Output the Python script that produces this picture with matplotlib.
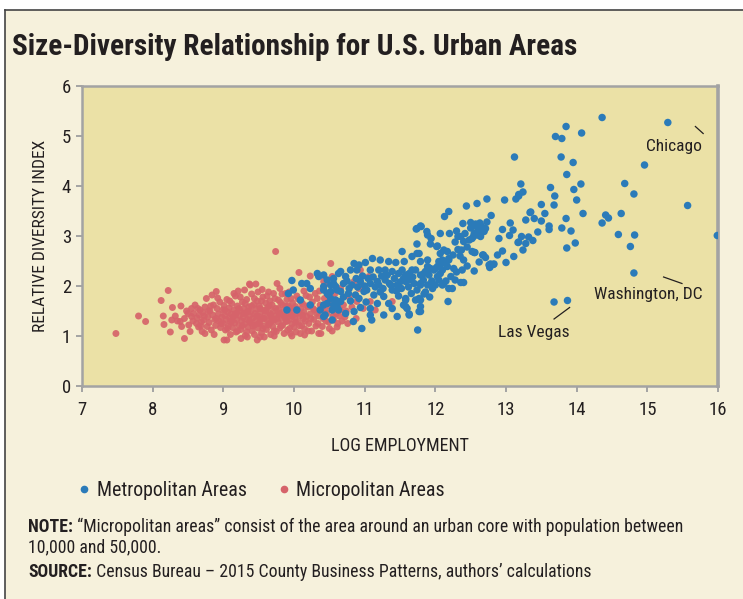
import matplotlib
matplotlib.use("Agg")
import matplotlib.pyplot as plt
from matplotlib import font_manager
from matplotlib.lines import Line2D

# ---------------- data ----------------
micro_x = [7.48, 7.80, 7.90, 8.12, 8.22, 8.15, 8.16, 8.25, 8.28, 8.32, 8.27, 8.39, 8.41, 8.45, 8.51, 8.53,
           8.55, 8.60, 8.55, 8.67, 8.62, 8.72, 8.77, 8.76, 8.90, 8.84, 9.01, 9.05, 8.70, 8.74,
           8.58, 8.63, 8.66, 8.69, 8.71, 8.74, 8.78, 8.80, 8.81, 8.83, 8.85, 8.86, 8.88, 8.89, 8.91, 8.93,
           8.94, 8.95, 8.96, 8.98, 8.99, 8.65, 8.87, 8.92,
           9.00, 9.01, 9.02, 9.03, 9.04, 9.05, 9.06, 9.07, 9.08, 9.09, 9.10, 9.10, 9.11, 9.12, 9.13, 9.14,
           9.15, 9.16, 9.17, 9.18, 9.18, 9.19, 9.20, 9.21, 9.22, 9.23, 9.24, 9.25, 9.26, 9.27,
           9.28, 9.29, 9.30, 9.31, 9.32, 9.33, 9.34, 9.35, 9.36, 9.37, 9.38, 9.38, 9.39, 9.40, 9.41, 9.42,
           9.43, 9.44, 9.45, 9.46, 9.46, 9.47, 9.48, 9.48, 9.49, 9.37, 9.50, 9.30, 9.34, 9.44,
           9.51, 9.52, 9.53, 9.54, 9.55, 9.56, 9.57, 9.58, 9.59, 9.60, 9.61, 9.62, 9.63, 9.64, 9.65, 9.66,
           9.67, 9.68, 9.69, 9.70, 9.71, 9.72, 9.73, 9.74, 9.74, 9.75, 9.76, 9.55, 9.66, 9.58,
           9.77, 9.78, 9.79, 9.80, 9.81, 9.82, 9.83, 9.84, 9.85, 9.86, 9.87, 9.88, 9.89, 9.90, 9.91, 9.92,
           9.93, 9.94, 9.95, 9.96, 9.97, 9.98, 9.99, 10.00, 9.80, 9.93,
           10.01, 10.02, 10.03, 10.04, 10.05, 10.06, 10.07, 10.08, 10.09, 10.10, 10.11, 10.12, 10.13, 10.14,
           10.15, 10.17, 10.18, 10.20, 10.21, 10.23, 10.23, 10.25, 10.26, 10.28, 10.29,
           10.31, 10.33, 10.35, 10.37, 10.38, 10.40, 10.42, 10.44, 10.45, 10.47, 10.48, 10.50, 10.52, 10.54,
           10.54, 10.56, 10.58, 10.60, 10.62, 10.66, 10.66, 10.70, 10.72, 10.78, 10.85, 10.89, 10.92, 10.94,
           11.06, 11.08, 11.39,
           8.82, 8.90, 8.97, 9.02, 9.06, 9.09, 9.12, 9.15, 9.17, 9.20, 9.22, 9.24, 9.27, 9.29, 9.31, 9.33,
           9.35, 9.37, 9.40, 9.42, 9.44, 9.47, 9.49, 9.50, 9.52, 9.54, 9.56, 9.58, 9.60, 9.62, 9.64, 9.65,
           9.67, 9.69, 9.71, 9.72, 9.74, 9.76, 9.78, 9.80, 9.82, 9.84, 9.86, 9.88, 9.90, 9.92, 9.94, 9.96,
           9.98, 10.00, 10.02, 10.04, 10.06, 10.08, 10.10, 10.12, 10.14, 10.16, 10.18, 10.20, 10.22, 10.24,
           10.27, 10.30, 10.32, 10.34, 10.36, 10.39, 10.41, 10.43, 10.46, 10.49, 10.51, 10.55, 10.57, 10.61,
           10.64, 10.68, 10.74, 10.76, 10.82, 10.88, 10.98, 11.15, 8.50, 8.57, 8.64, 8.68, 8.73, 8.79, 8.35,
           8.45, 8.48, 8.40, 9.25, 9.52, 9.72, 9.97, 10.15, 10.35]
micro_y = [1.05, 1.40, 1.29, 1.71, 1.91, 1.40, 1.23, 1.08, 1.57, 1.40, 1.32, 1.29, 1.19, 0.95, 1.22, 1.09,
           1.39, 1.62, 1.55, 1.52, 1.25, 1.32, 1.19, 1.75, 1.89, 1.82, 0.92, 0.92, 1.09, 1.05,
           1.45, 1.36, 1.42, 1.28, 1.47, 1.58, 1.38, 1.27, 1.50, 1.12, 1.42, 1.62, 1.33, 1.21, 1.55, 1.44,
           1.30, 1.68, 1.17, 1.38, 1.52, 1.18, 1.03, 1.76,
           1.25, 1.61, 1.41, 1.12, 1.33, 1.73, 1.48, 1.20, 1.56, 1.36, 1.03, 1.28, 1.44, 1.65, 1.17, 1.39,
           1.52, 1.26, 1.80, 1.08, 1.45, 1.33, 1.60, 1.90, 1.21, 1.41, 1.50, 1.13, 1.30, 1.68,
           1.37, 1.55, 1.24, 1.01, 1.46, 1.73, 1.33, 1.18, 1.58, 1.40, 2.02, 1.27, 1.49, 1.84, 1.10, 1.36,
           1.63, 1.22, 1.45, 2.04, 1.31, 1.54, 0.92, 1.70, 1.16, 2.04, 1.39, 1.92, 0.98, 1.03,
           1.60, 1.27, 1.48, 1.06, 1.35, 1.78, 1.20, 1.52, 1.42, 1.66, 1.13, 1.31, 1.57, 1.88, 1.25, 1.45,
           1.03, 1.37, 1.62, 1.19, 1.50, 1.32, 1.75, 2.69, 1.41, 1.09, 2.05, 1.93, 1.70, 0.98,
           1.28, 1.55, 1.44, 1.16, 1.67, 1.35, 1.84, 1.22, 1.49, 1.05, 1.38, 1.60, 1.29, 1.73, 1.12, 1.46,
           1.33, 1.56, 1.05, 1.41, 1.24, 1.66, 1.51, 1.18, 1.95, 1.88,
           1.36, 1.59, 1.08, 1.45, 1.28, 1.74, 2.27, 1.40, 1.05, 1.55, 1.21, 1.65, 1.34, 1.48,
           1.14, 1.81, 1.39, 1.58, 1.25, 2.20, 1.44, 1.10, 1.68, 1.33, 1.52,
           1.20, 1.75, 1.40, 1.62, 1.05, 1.19, 2.09, 1.52, 1.30, 2.05, 1.67, 1.15, 2.45, 2.19,
           1.10, 1.32, 1.85, 1.45, 1.25, 1.95, 1.52, 1.62, 1.38, 1.78, 2.09, 1.69, 1.95, 2.32,
           2.19, 1.69, 1.69,
           1.60, 1.35, 1.25, 1.52, 1.15, 1.70, 1.30, 1.85, 1.42, 1.10, 1.55, 1.78, 1.20, 1.45, 1.65, 1.08,
           1.50, 1.30, 1.60, 1.20, 1.75, 1.40, 1.88, 1.25, 1.55, 1.70, 1.15, 1.35, 1.50, 1.80, 1.22, 1.60,
           1.42, 1.30, 1.85, 1.10, 1.55, 1.35, 1.72, 1.45, 1.20, 1.62, 1.40, 1.85, 1.30, 1.60, 1.15, 1.75,
           1.40, 1.55, 1.28, 1.80, 1.50, 1.20, 1.68, 1.42, 1.90, 1.30, 1.60, 1.10, 1.78, 1.35,
           1.55, 1.85, 1.45, 1.25, 1.90, 1.55, 1.35, 1.75, 1.45, 1.28, 1.60, 1.40, 1.72, 1.18,
           1.40, 1.30, 1.50, 1.25, 1.58, 1.35, 1.55, 1.52, 1.45, 1.30, 1.55, 1.20, 1.40, 1.50, 1.30,
           1.35, 1.50, 1.60, 0.95, 0.98, 1.00, 1.00, 1.02, 1.05]

metro_x = [14.36, 15.29, 13.85, 13.70, 13.79, 14.07, 13.12, 13.78, 13.95, 14.96, 13.86, 14.68, 14.81, 13.21,
           13.63, 14.06, 13.96, 13.24, 13.18, 13.14, 12.73, 12.59, 12.98, 13.69, 14.00, 13.50, 13.68, 15.57,
           13.35, 14.09, 12.79, 13.28, 14.41, 14.45, 14.63, 14.36, 13.06, 12.73, 13.61, 13.61, 13.79, 12.95,
           15.99, 14.59, 14.82, 13.22, 13.05, 13.32, 13.38, 13.17, 14.76, 13.98, 13.86, 13.24, 13.11, 13.00,
           12.78, 12.77, 12.83, 12.68, 12.71, 12.55, 14.81, 13.68, 13.87,
           12.57, 12.63, 12.55, 12.60, 12.65, 12.55, 12.60, 12.54, 12.66,
           13.18, 12.44, 12.19, 12.13, 12.39, 12.50, 12.50, 12.71, 12.69, 13.34, 11.73, 11.80, 11.88, 11.89,
           11.94, 12.02, 12.32, 12.36, 12.40, 12.48, 12.52, 12.59, 12.64, 13.18, 13.28, 12.32, 12.37, 12.52,
           12.56, 12.67, 12.76, 12.82, 11.74, 11.74, 11.79, 11.89, 12.12, 12.07, 12.17, 12.19, 12.15, 12.17,
           12.10, 12.03, 11.98, 11.93, 11.89, 11.84, 12.40, 12.38, 12.36, 12.40, 12.22, 12.24, 12.19, 12.10,
           11.98, 11.96, 11.79, 11.63, 11.70, 11.58, 11.53, 12.18, 11.77, 11.72, 11.58, 11.58, 11.63, 11.79,
           11.79, 11.84, 11.75, 12.03, 12.07, 12.05, 11.86, 11.67, 11.65,
           11.79, 11.74, 12.03, 11.93, 11.53, 12.10, 12.19, 11.11, 11.22, 11.34, 11.44, 11.56, 11.67, 11.77,
           11.89, 12.00, 10.85, 10.92, 11.01, 10.80, 10.66, 10.73, 10.89, 11.08, 11.20, 11.29, 11.39, 11.48,
           11.63, 11.72, 11.79, 11.91, 12.07, 10.70, 10.82, 10.94, 11.08, 11.18, 11.29, 11.37, 11.46, 11.58,
           11.79, 11.89, 12.00, 12.12, 10.52, 10.66, 10.77, 10.87, 10.99, 11.13, 11.27, 11.39, 11.58, 11.60,
           11.79, 11.77, 11.63, 11.39, 11.34, 11.08, 10.94, 10.85, 10.73, 11.08, 11.10, 11.27, 11.46, 10.96,
           10.84,
           10.42, 10.47, 10.52, 10.56, 10.59, 10.61, 10.47, 10.54, 10.66, 10.59, 10.42, 10.49,
           9.97, 10.11, 10.33, 10.35, 10.23, 10.18, 10.42, 10.47, 10.52, 10.56, 10.63, 10.42, 10.37, 10.44,
           10.56, 10.63, 10.61, 9.99, 9.92, 10.09, 10.23, 9.90, 10.04, 10.42, 10.54,
           10.75, 10.78, 10.88, 10.90, 10.97, 11.00, 11.03, 11.05, 11.12, 11.15, 11.20, 11.24, 11.26, 11.32,
           11.35, 11.42, 11.45, 11.50, 11.52, 11.55, 11.62, 11.68, 11.74, 11.83, 11.86, 11.95, 12.05, 12.15,
           12.28, 12.30, 10.70, 10.80, 10.92, 11.02, 11.18, 11.22, 11.48, 11.55, 11.66, 11.92, 12.26, 12.45,
           12.55, 12.62, 12.35, 12.25, 12.45, 12.28, 12.42, 12.20, 12.07, 12.30, 12.88, 12.95, 12.90, 13.10,
           13.45, 13.50, 13.40, 13.55, 13.85, 13.92]
metro_y = [5.37, 5.27, 5.19, 4.99, 4.95, 5.06, 4.58, 4.58, 4.47, 4.42, 4.23, 4.05, 3.84, 4.04,
           3.97, 4.04, 3.93, 3.88, 3.80, 3.74, 3.74, 3.65, 3.72, 3.80, 3.72, 3.63, 3.62, 3.61,
           3.48, 3.45, 3.41, 3.32, 3.42, 3.36, 3.45, 3.26, 3.26, 3.28, 3.20, 3.13, 3.16, 3.13,
           3.01, 3.03, 3.02, 2.99, 3.01, 2.98, 2.91, 2.87, 2.79, 2.86, 2.76, 2.72, 2.59, 2.47,
           2.44, 2.37, 2.44, 2.62, 2.57, 2.67, 2.26, 1.68, 1.71,
           3.24, 3.26, 3.20, 3.17, 3.20, 3.05, 3.02, 2.99, 3.12,
           3.83, 3.60, 3.49, 3.39, 3.25, 3.27, 3.16, 3.15, 3.09, 3.47, 3.14, 3.19, 3.09, 3.02,
           2.95, 2.79, 2.99, 2.99, 2.89, 2.92, 2.95, 3.05, 2.99, 2.88, 2.85, 2.73, 2.72, 2.69,
           2.67, 2.62, 2.42, 2.43, 2.84, 2.65, 2.49, 2.52, 2.72, 2.65, 2.69, 2.52, 2.45, 2.39,
           2.32, 2.39, 2.32, 2.35, 2.32, 2.25, 2.52, 2.32, 2.07, 2.07, 2.19, 1.95, 1.95, 2.02,
           2.02, 1.95, 2.02, 2.12, 2.05, 2.22, 2.32, 1.69, 1.75, 1.72, 1.75, 1.59, 1.44, 1.59,
           1.49, 1.84, 1.12, 2.19, 2.42, 2.49, 2.29, 2.32, 2.19,
           3.20, 3.15, 2.80, 2.84, 2.69, 2.52, 2.55, 2.55, 2.52, 2.49, 2.47, 2.49, 2.59, 2.65,
           2.39, 2.35, 2.45, 2.42, 2.47, 2.32, 2.29, 2.19, 2.32, 2.32, 2.32, 2.32, 2.29, 2.25,
           2.25, 2.32, 2.22, 2.22, 2.25, 2.05, 2.02, 2.09, 2.05, 2.09, 2.12, 2.02, 2.02, 2.09,
           2.05, 2.02, 2.02, 2.05, 1.89, 1.89, 1.85, 1.82, 1.89, 1.82, 1.79, 1.92, 1.72, 1.55,
           1.72, 1.49, 1.42, 1.55, 1.65, 1.55, 1.57, 1.49, 1.45, 1.42, 1.32, 1.42, 1.39, 1.15,
           1.29,
           2.22, 2.12, 2.02, 2.15, 1.72, 1.59, 1.65, 1.52, 1.69, 1.99, 1.92, 1.82,
           2.11, 2.05, 2.25, 2.19, 1.95, 2.05, 1.99, 1.85, 1.75, 1.62, 1.52, 1.62, 1.52, 1.42,
           2.05, 2.25, 1.92, 1.92, 1.85, 1.72, 1.62, 1.52, 1.52, 1.39, 1.32,
           2.10, 1.95, 2.15, 1.98, 2.20, 2.00, 1.92, 2.15, 2.18, 1.98, 2.02, 2.20, 1.95, 2.22,
           2.05, 2.15, 1.90, 2.08, 1.95, 2.15, 1.98, 2.18, 1.92, 2.12, 1.88, 2.10, 2.12, 2.10,
           2.12, 2.28, 1.78, 1.70, 1.75, 1.68, 1.65, 1.88, 1.80, 1.62, 1.85, 1.78, 2.35, 2.40,
           2.30, 2.48, 2.60, 2.62, 2.78, 2.88, 3.05, 3.05, 3.05, 3.10, 2.62, 2.70, 2.95, 3.12,
           3.08, 3.30, 3.35, 3.45, 3.35, 3.10]

labels_text = ["Chicago", "Washington, DC", "Las Vegas"]
label_xy = [(15.38, 4.80), (15.02, 1.82), (13.39, 1.07)]
leader_lines = [((15.68, 5.19), (15.79, 5.05)), ((15.23, 2.18), (15.49, 2.05)), ((13.68, 1.34), (13.90, 1.57))]

x_ticks = [7, 8, 9, 10, 11, 12, 13, 14, 15, 16]
y_ticks = [0, 1, 2, 3, 4, 5, 6]
series_names = ["Metropolitan Areas", "Micropolitan Areas"]

# ---------------- fonts ----------------
def pick(cands):
    for c in cands:
        try:
            font_manager.findfont(font_manager.FontProperties(family=c), fallback_to_default=False)
            return c
        except Exception:
            pass
    return "DejaVu Sans"

FONT = pick(["Liberation Sans Narrow", "Roboto Condensed", "Open Sans Condensed", "Noto Sans", "Lato"])
plt.rcParams['font.family'] = [FONT, "DejaVu Sans"]

# ---------------- style ----------------
BLUE = "#2b7bb9"
RED = "#d6636a"
PANEL = "#f6f1dc"
PLOTBG = "#ebe1a6"
GRAY = "#a3a3a3"
TXT = "#231f20"

W, H = 743, 599
fig = plt.figure(figsize=(W / 100, H / 100), dpi=100)
fig.patch.set_facecolor("white")

panel = plt.Rectangle((5 / W, 0), 1.0, 1 - 10 / H, transform=fig.transFigure,
                      facecolor=PANEL, edgecolor="none", zorder=0)
fig.add_artist(panel)
fig.add_artist(Line2D([5 / W, 5 / W], [0, 1 - 10 / H], transform=fig.transFigure, color="#444444", lw=1.2))
fig.add_artist(Line2D([5 / W, 1], [1 - 10 / H, 1 - 10 / H], transform=fig.transFigure, color="#444444", lw=1.2))

ax = fig.add_axes([82 / W, 1 - 386 / H, (718 - 82) / W, (386 - 86) / H])
ax.set_facecolor(PLOTBG)
ax.set_xlim(7, 16)
ax.set_ylim(0, 6)

ax.scatter(micro_x, micro_y, s=25, color=RED, edgecolors="none", alpha=0.92, zorder=2)
ax.scatter(metro_x, metro_y, s=29, color=BLUE, edgecolors="none", zorder=3)

for sp in ax.spines.values():
    sp.set_color(GRAY)
    sp.set_linewidth(1.8)
ax.spines["right"].set_linewidth(2.6)
ax.set_xticks(x_ticks)
ax.set_yticks(y_ticks)
ax.tick_params(axis="both", colors=GRAY, length=4, width=1.4, labelcolor=TXT, labelsize=13.5)
ax.tick_params(axis="x", pad=7)
ax.tick_params(axis="y", pad=4)

ax.set_xlabel("LOG EMPLOYMENT", fontsize=13, color=TXT, labelpad=13)
ax.set_ylabel("RELATIVE DIVERSITY INDEX", fontsize=12.5, color=TXT, labelpad=10)

for t, (lx, ly) in zip(labels_text, label_xy):
    ax.text(lx, ly, t, fontsize=12.5, color=TXT, ha="center", va="center", zorder=4)
for (p0, p1) in leader_lines:
    ax.plot([p0[0], p1[0]], [p0[1], p1[1]], color=TXT, lw=0.9, zorder=4)

fig.text(12 / W, 1 - 47 / H, "Size-Diversity Relationship for U.S. Urban Areas",
         fontsize=21.1, fontweight="bold", color=TXT, ha="left", va="center")

handles = [Line2D([], [], ls="none", marker="o", ms=4.5, color=BLUE),
           Line2D([], [], ls="none", marker="o", ms=4.5, color=RED)]
fig.legend(handles, series_names, loc="center left", bbox_to_anchor=(67 / W, 1 - 490 / H),
           ncol=2, frameon=False, fontsize=14.3, handlelength=0.7, handletextpad=0.3,
           columnspacing=1.5, borderpad=0, labelcolor=TXT)

b1 = fig.text(28 / W, 1 - 536 / H, "NOTE:", fontsize=12.8, fontweight="bold", color=TXT, va="bottom")
ax.annotate(" \u201cMicropolitan areas\u201d consist of the area around an urban core with population between",
            xy=(1, 0), xycoords=b1, va="bottom", ha="left", fontsize=12.8, color=TXT, annotation_clip=False)
fig.text(28 / W, 1 - 556 / H, "10,000 and 50,000.", fontsize=12.8, color=TXT, va="bottom")
b2 = fig.text(28 / W, 1 - 581 / H, "SOURCE:", fontsize=12.8, fontweight="bold", color=TXT, va="bottom")
ax.annotate(" Census Bureau \u2013 2015 County Business Patterns, authors\u2019 calculations",
            xy=(1, 0), xycoords=b2, va="bottom", ha="left", fontsize=12.8, color=TXT, annotation_clip=False)

fig.savefig("out.png", dpi=100, facecolor=fig.get_facecolor())
